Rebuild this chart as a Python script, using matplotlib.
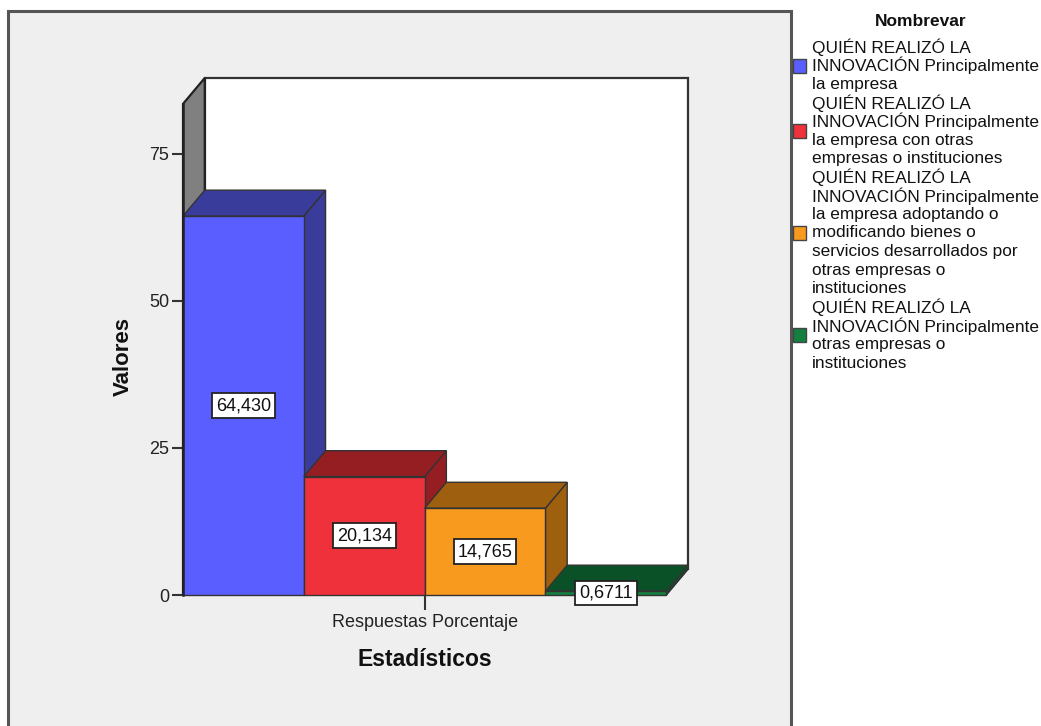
import matplotlib.pyplot as plt
from matplotlib.patches import Polygon, Rectangle

plt.rcParams['font.family'] = ['Liberation Sans', 'DejaVu Sans']

# data
values = [64.430, 20.134, 14.765, 0.6711]
value_labels = ['64,430', '20,134', '14,765', '0,6711']
category = 'Respuestas Porcentaje'
legend_title = 'Nombrevar'
legend_lines = [
    ['QUIÉN REALIZÓ LA', 'INNOVACIÓN Principalmente', 'la empresa'],
    ['QUIÉN REALIZÓ LA', 'INNOVACIÓN Principalmente', 'la empresa con otras',
     'empresas o instituciones'],
    ['QUIÉN REALIZÓ LA', 'INNOVACIÓN Principalmente', 'la empresa adoptando o',
     'modificando bienes o', 'servicios desarrollados por', 'otras empresas o',
     'instituciones'],
    ['QUIÉN REALIZÓ LA', 'INNOVACIÓN Principalmente', 'otras empresas o',
     'instituciones'],
]
yticks = [0, 25, 50, 75]

front = ['#5B5EFF', '#EF313B', '#F89A1E', '#13803F']
dark = ['#3A3C9C', '#951E23', '#9E600F', '#0B5128']
edge = '#333333'

W, H = 1041, 726
fig = plt.figure(figsize=(W / 100, H / 100), dpi=100, facecolor='white')

# grey chart panel
fig.patches.append(Rectangle((8 / W, -0.01), (791 - 8) / W, (H - 11) / H + 0.01,
                             transform=fig.transFigure, facecolor='#EFEFEF',
                             edgecolor='#555555', linewidth=2.2, zorder=-5))

# 3d depth in data units
dx, dy = 0.18, 4.4
wall_top = 83.5
n = len(values)

ax = fig.add_axes([183 / W, (H - 595) / H, (688 - 183) / W, (595 - 78) / H])
ax.set_zorder(2)
ax.set_xlim(0, n + dx)
ax.set_ylim(0, wall_top + dy)
ax.patch.set_visible(False)
for s in ax.spines.values():
    s.set_visible(False)

# walls
ax.add_patch(Polygon([(dx, dy), (n + dx, dy), (n + dx, wall_top + dy), (dx, wall_top + dy)],
                     facecolor='white', edgecolor=edge, linewidth=1.6, clip_on=False))
ax.add_patch(Polygon([(0, 0), (0, wall_top), (dx, wall_top + dy), (dx, dy)],
                     facecolor='#808080', edgecolor='#222222', linewidth=1.6, clip_on=False))
ax.add_patch(Polygon([(0, 0), (n, 0), (n + dx, dy), (dx, dy)],
                     facecolor='white', edgecolor=edge, linewidth=1.0, clip_on=False))

# bars
for i, v in enumerate(values):
    ax.add_patch(Polygon([(i + 1, 0), (i + 1, v), (i + 1 + dx, v + dy), (i + 1 + dx, dy)],
                         facecolor=dark[i], edgecolor=edge, linewidth=1.0, clip_on=False))
    ax.add_patch(Polygon([(i, v), (i + 1, v), (i + 1 + dx, v + dy), (i + dx, v + dy)],
                         facecolor=dark[i], edgecolor=edge, linewidth=1.0, clip_on=False))
    ax.add_patch(Rectangle((i, 0), 1, v, facecolor=front[i], edgecolor=edge,
                           linewidth=1.0, clip_on=False))
    ax.text(i + 0.5, v / 2, value_labels[i], ha='center', va='center', fontsize=13,
            color='#111111', zorder=5,
            bbox=dict(boxstyle='square,pad=0.22', facecolor='white', edgecolor='#222222',
                      linewidth=1.3))

ax.plot([0, 0], [0, wall_top], color='#222222', linewidth=1.8, clip_on=False)

ax.set_yticks(yticks)
ax.set_yticklabels([str(t) for t in yticks])
ax.set_xticks([n / 2])
ax.set_xticklabels([category])
ax.tick_params(axis='y', length=8, width=1.5, color='#333333', pad=2, labelsize=13,
               labelcolor='#222222')
ax.tick_params(axis='x', length=11, width=1.5, color='#333333', pad=3, labelsize=13,
               labelcolor='#222222')

fig.text(123 / W, 1 - 356 / H, 'Valores', rotation=90, ha='center', va='center',
         fontsize=16, fontweight='bold', color='#111111')
fig.text(425 / W, 1 - 660 / H, 'Estadísticos', ha='center', va='center',
         fontsize=16.5, fontweight='bold', color='#111111')

# legend
fig.text(921 / W, 1 - 22 / H, legend_title, ha='center', va='center', fontsize=12.5,
         fontweight='bold', color='#111111')
step = 18.6
y = 47
for k, lines in enumerate(legend_lines):
    y0 = y
    for line in lines:
        fig.text(812 / W, 1 - y / H, line, ha='left', va='center', fontsize=12.4,
                 color='#111111')
        y += step
    yc = (y0 + y - step) / 2
    fig.patches.append(Rectangle((793 / W, 1 - (yc + 7) / H), 13 / W, 14 / H,
                                 transform=fig.transFigure, facecolor=front[k],
                                 edgecolor='#444444', linewidth=1.0, zorder=3))

fig.savefig('out.png', dpi=100, facecolor='white')
